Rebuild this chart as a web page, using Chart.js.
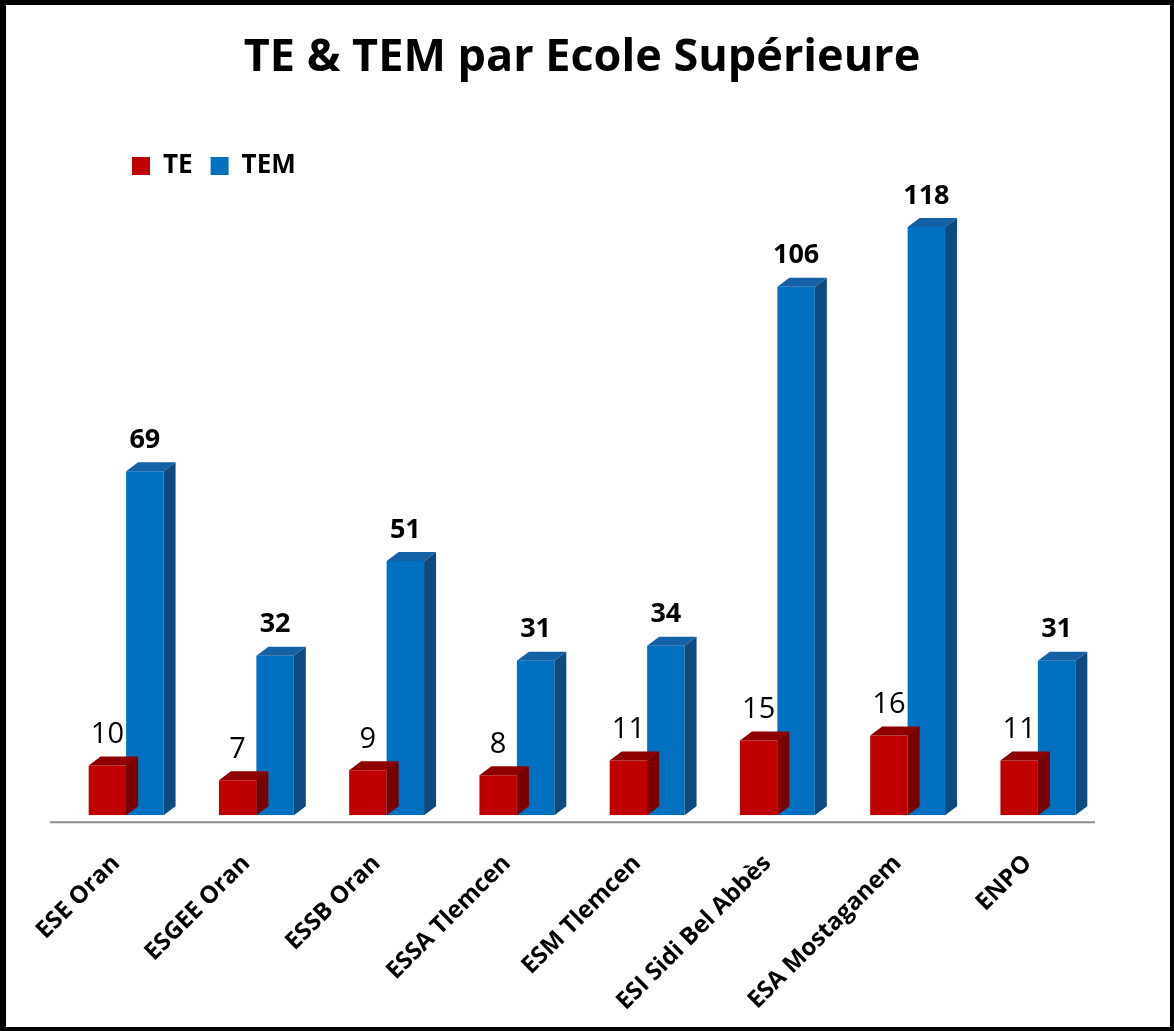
<!DOCTYPE html>
<html>
<head>
<meta charset="utf-8">
<script src="https://cdn.jsdelivr.net/npm/chart.js@4.4.1/dist/chart.umd.min.js"></script>
<style>
  html, body { margin: 0; padding: 0; background: #fff; }
  #frame {
    box-sizing: border-box;
    width: 1174px;
    height: 1031px;
    border-style: solid;
    border-color: #000;
    border-width: 5px 4px 4px 6px;
    background: #fff;
  }
  #wrap { position: relative; width: 100%; height: 100%; }
</style>
</head>
<body>
<div id="frame"><div id="wrap"><canvas id="chart"></canvas></div></div>
<script>
const ecoles = [
  "ESE Oran", "ESGEE Oran", "ESSB Oran", "ESSA Tlemcen",
  "ESM Tlemcen", "ESI Sidi Bel Abbès", "ESA Mostaganem", "ENPO"
];
const teValues = [10, 7, 9, 8, 11, 15, 16, 11];
const temValues = [69, 32, 51, 31, 34, 106, 118, 31];
const seriesNames = ["TE", "TEM"];

const FONT = "'Open Sans', 'DejaVu Sans', sans-serif";
const depthX = 12, depthY = 9;

// fake 3D: top and side faces drawn after each dataset so the next one covers them
const bars3d = {
  id: "bars3d",
  afterDatasetDraw(chart, args) {
    const ctx = chart.ctx;
    const ds = chart.data.datasets[args.index];
    args.meta.data.forEach(bar => {
      const { x, y, base, width } = bar.getProps(["x", "y", "base", "width"], true);
      const l = x - width / 2, r = x + width / 2;
      ctx.save();
      ctx.fillStyle = ds.topColor;
      ctx.beginPath();
      ctx.moveTo(l, y);
      ctx.lineTo(l + depthX, y - depthY);
      ctx.lineTo(r + depthX, y - depthY);
      ctx.lineTo(r, y);
      ctx.closePath();
      ctx.fill();
      ctx.fillStyle = ds.sideColor;
      ctx.beginPath();
      ctx.moveTo(r, y);
      ctx.lineTo(r + depthX, y - depthY);
      ctx.lineTo(r + depthX, base - depthY);
      ctx.lineTo(r, base);
      ctx.closePath();
      ctx.fill();
      ctx.restore();
    });
  }
};

const floorLine = {
  id: "floorLine",
  beforeDatasetsDraw(chart) {
    const { ctx, chartArea } = chart;
    ctx.save();
    ctx.strokeStyle = "#8c8c8c";
    ctx.lineWidth = 2;
    ctx.beginPath();
    ctx.moveTo(chartArea.left - 11, chartArea.bottom + 7);
    ctx.lineTo(chartArea.right - 8, chartArea.bottom + 7);
    ctx.stroke();
    ctx.restore();
  }
};

const valueLabels = {
  id: "valueLabels",
  afterDatasetsDraw(chart) {
    const ctx = chart.ctx;
    ctx.save();
    ctx.fillStyle = "#000";
    ctx.textAlign = "center";
    ctx.textBaseline = "middle";
    chart.data.datasets.forEach((ds, i) => {
      ctx.font = i === 0 ? "normal 29px " + FONT : "bold 27px " + FONT;
      chart.getDatasetMeta(i).data.forEach((bar, j) => {
        ctx.fillText(String(ds.data[j]), bar.x, bar.y - 31);
      });
    });
    ctx.restore();
  }
};

// push the legend to the right, like the original
const legendShift = {
  id: "legendShift",
  afterUpdate(chart) {
    const lg = chart.legend;
    const target = 126;
    lg.left += target - (lg.left + lg.options.labels.padding);
  }
};

new Chart(document.getElementById("chart"), {
  type: "bar",
  data: {
    labels: ecoles,
    datasets: [
      {
        label: seriesNames[0],
        data: teValues,
        backgroundColor: "#c00000",
        topColor: "#8e0000",
        sideColor: "#7a0000",
        categoryPercentage: 0.575,
        barPercentage: 1
      },
      {
        label: seriesNames[1],
        data: temValues,
        backgroundColor: "#0070c0",
        topColor: "#1561a6",
        sideColor: "#0d4a80",
        categoryPercentage: 0.575,
        barPercentage: 1
      }
    ]
  },
  options: {
    responsive: true,
    maintainAspectRatio: false,
    animation: false,
    layout: { padding: { left: 55, right: 67, top: 0, bottom: -15 } },
    plugins: {
      title: {
        display: true,
        text: "TE & TEM par Ecole Supérieure",
        color: "#000",
        font: { family: FONT, size: 45, weight: "bold" },
        padding: { top: 26, bottom: 50 }
      },
      legend: {
        position: "top",
        align: "start",
        labels: {
          color: "#000",
          boxWidth: 18,
          boxHeight: 18,
          padding: 18,
          font: { family: FONT, size: 26, weight: "bold" }
        }
      },
      tooltip: { enabled: false }
    },
    scales: {
      x: {
        grid: { display: false },
        border: { display: false },
        ticks: {
          color: "#000",
          maxRotation: 45,
          minRotation: 45,
          padding: 26,
          labelOffset: -10,
          font: { family: FONT, size: 24, weight: "bold" }
        }
      },
      y: {
        display: false,
        min: 0,
        max: 125.6
      }
    }
  },
  plugins: [bars3d, floorLine, valueLabels, legendShift]
});
</script>
</body>
</html>
